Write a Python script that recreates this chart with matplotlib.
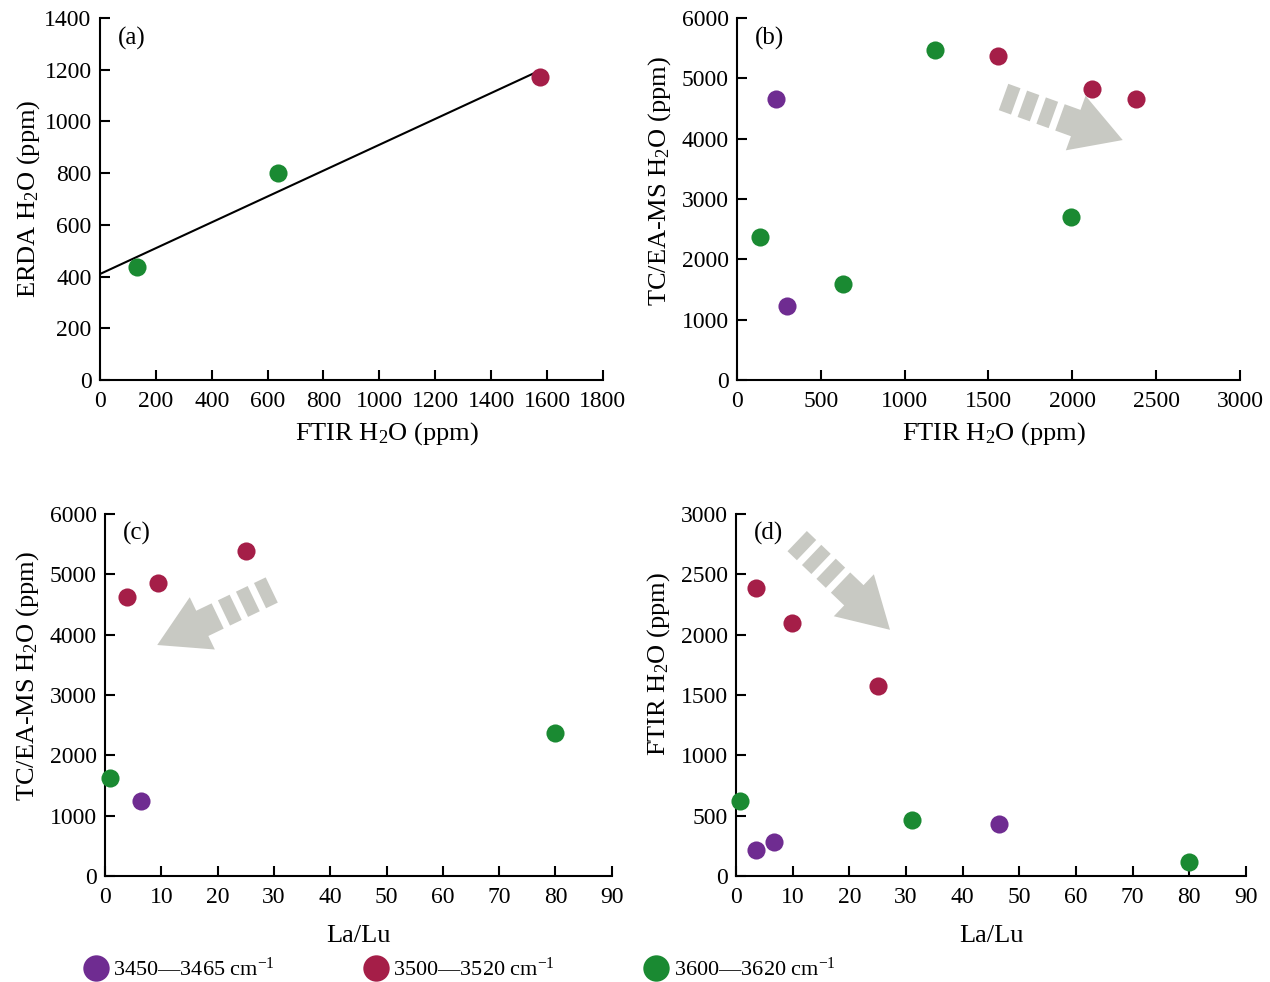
import numpy as np
import matplotlib
matplotlib.use('Agg')
import matplotlib.pyplot as plt
from matplotlib.patches import Polygon
from matplotlib.transforms import IdentityTransform
from matplotlib.lines import Line2D

plt.rcParams['font.family'] = ['Liberation Serif', 'DejaVu Serif']
plt.rcParams['mathtext.fontset'] = 'custom'
plt.rcParams['mathtext.rm'] = 'Liberation Serif'
plt.rcParams['mathtext.default'] = 'regular'

PURPLE = '#6f2c91'
RED = '#a51e48'
GREEN = '#1a8a32'
ARROW = '#c8c9c3'

# (a) ERDA vs FTIR
a_green_x = [132, 637]
a_green_y = [437, 800]
a_red_x = [1575]
a_red_y = [1172]
a_fit_x = [0, 1575]
a_fit_intercept = 410
a_fit_slope = 0.5

# (b) TC/EA-MS vs FTIR
b_purple_x = [233, 298]
b_purple_y = [4658, 1227]
b_red_x = [1556, 2117, 2379]
b_red_y = [5370, 4823, 4658]
b_green_x = [1181, 137, 632, 1992]
b_green_y = [5470, 2370, 1591, 2702]

# (c) TC/EA-MS vs La/Lu
c_purple_x = [6.4]
c_purple_y = [1243]
c_red_x = [3.9, 9.4, 25]
c_red_y = [4625, 4857, 5387]
c_green_x = [0.9, 79.9]
c_green_y = [1624, 2370]

# (d) FTIR vs La/Lu
d_purple_x = [3.5, 6.7, 46.4]
d_purple_y = [215, 282, 431]
d_red_x = [3.5, 9.9, 25]
d_red_y = [2387, 2097, 1575]
d_green_x = [0.7, 31, 80]
d_green_y = [622, 464, 116]

legend_labels = ['3450\u20143465 cm$^{-1}$', '3500\u20143520 cm$^{-1}$', '3600\u20143620 cm$^{-1}$']

fig = plt.figure(figsize=(12.7, 9.82), dpi=100)
ax_a = fig.add_axes([0.0787, 0.613, 0.396, 0.3686])
ax_b = fig.add_axes([0.5803, 0.613, 0.396, 0.3686])
ax_c = fig.add_axes([0.0827, 0.108, 0.399, 0.3686])
ax_d = fig.add_axes([0.5795, 0.108, 0.4016, 0.3686])

MS = 170
FS = 17


def style(ax, xlim, xticks, ylim, yticks, xlabel, ylabel, tag,
          xl_x=0.5, yl_y=0.5, ypad=6, xpad=6):
    ax.set_xlim(*xlim)
    ax.set_ylim(*ylim)
    ax.set_xticks(xticks)
    ax.set_yticks(yticks)
    for s in ['top', 'right']:
        ax.spines[s].set_visible(False)
    for s in ['left', 'bottom']:
        ax.spines[s].set_linewidth(1.5)
    ax.tick_params(direction='in', length=7, width=1.5, labelsize=FS)
    ax.tick_params(axis='x', pad=8)
    ax.tick_params(axis='y', pad=6)
    ax.set_xlabel(xlabel, fontsize=19, labelpad=xpad)
    ax.set_ylabel(ylabel, fontsize=19, labelpad=ypad)
    ax.xaxis.label.set_x(xl_x)
    ax.yaxis.label.set_y(yl_y)
    ax.text(0.035, 0.945, tag, transform=ax.transAxes, fontsize=18, va='center')


def dashed_arrow(ax, start, end):
    # fat grey arrow with three-bar dashed tail, geometry in pixels
    p0 = ax.transAxes.transform(start)
    p1 = ax.transAxes.transform(end)
    d = p1 - p0
    L = np.hypot(*d)
    u = d / L
    n = np.array([-u[1], u[0]])
    shaft_w = 28
    head_w = 58
    head_l = 50
    bar = 13
    gap = 7
    t = 0
    for i in range(3):
        a0 = p0 + u * t
        a1 = p0 + u * (t + bar)
        pts = [a0 + n * shaft_w / 2, a1 + n * shaft_w / 2,
               a1 - n * shaft_w / 2, a0 - n * shaft_w / 2]
        ax.add_patch(Polygon(pts, closed=True, fc=ARROW, ec='none',
                             transform=IdentityTransform(), clip_on=False))
        t += bar + gap
    b0 = p0 + u * t
    hb = p0 + u * (L - head_l)
    pts = [b0 + n * shaft_w / 2, hb + n * shaft_w / 2, hb + n * head_w / 2, p1,
           hb - n * head_w / 2, hb - n * shaft_w / 2, b0 - n * shaft_w / 2]
    ax.add_patch(Polygon(pts, closed=True, fc=ARROW, ec='none',
                         transform=IdentityTransform(), clip_on=False))


# (a)
style(ax_a, (0, 1800), range(0, 1801, 200), (0, 1400), range(0, 1401, 200),
      'FTIR H$_2$O (ppm)', 'ERDA H$_2$O (ppm)', '(a)', xl_x=0.57, ypad=2)
fx = np.array(a_fit_x)
ax_a.plot(fx, a_fit_intercept + a_fit_slope * fx, color='black', lw=1.5, zorder=2)
ax_a.scatter(a_green_x, a_green_y, s=MS, c=GREEN, zorder=3, lw=0)
ax_a.scatter(a_red_x, a_red_y, s=MS, c=RED, zorder=3, lw=0)

# (b)
style(ax_b, (0, 3000), range(0, 3001, 500), (0, 6000), range(0, 6001, 1000),
      'FTIR H$_2$O (ppm)', 'TC/EA-MS H$_2$O (ppm)', '(b)', xl_x=0.51, yl_y=0.55)
ax_b.scatter(b_purple_x, b_purple_y, s=MS, c=PURPLE, zorder=3, lw=0)
ax_b.scatter(b_red_x, b_red_y, s=MS, c=RED, zorder=3, lw=0)
ax_b.scatter(b_green_x, b_green_y, s=MS, c=GREEN, zorder=3, lw=0)

# (c)
style(ax_c, (0, 90), range(0, 91, 10), (0, 6000), range(0, 6001, 1000),
      'La/Lu', 'TC/EA-MS H$_2$O (ppm)', '(c)', yl_y=0.552, xpad=12)
ax_c.scatter(c_purple_x, c_purple_y, s=MS, c=PURPLE, zorder=3, lw=0)
ax_c.scatter(c_red_x, c_red_y, s=MS, c=RED, zorder=3, lw=0)
ax_c.scatter(c_green_x, c_green_y, s=MS, c=GREEN, zorder=3, lw=0, clip_on=False)

# (d)
style(ax_d, (0, 90), range(0, 91, 10), (0, 3000), range(0, 3001, 500),
      'La/Lu', 'FTIR H$_2$O (ppm)', '(d)', yl_y=0.586, xpad=12)
ax_d.scatter(d_purple_x, d_purple_y, s=MS, c=PURPLE, zorder=3, lw=0)
ax_d.scatter(d_red_x, d_red_y, s=MS, c=RED, zorder=3, lw=0)
ax_d.scatter(d_green_x, d_green_y, s=MS, c=GREEN, zorder=3, lw=0, clip_on=False)

dashed_arrow(ax_b, (0.530, 0.782), (0.767, 0.663))
dashed_arrow(ax_c, (0.329, 0.79), (0.103, 0.638))
dashed_arrow(ax_d, (0.12, 0.925), (0.302, 0.68))

handles = [Line2D([], [], ls='none', marker='o', ms=19, mfc=c, mec='none')
           for c in [PURPLE, RED, GREEN]]
fig.legend(handles, legend_labels, loc='center left', bbox_to_anchor=(0.05, 0.013),
           ncol=3, frameon=False, fontsize=16, handletextpad=0.23, columnspacing=4.0,
           handlelength=1.1)

fig.savefig('out.png', dpi=100)
